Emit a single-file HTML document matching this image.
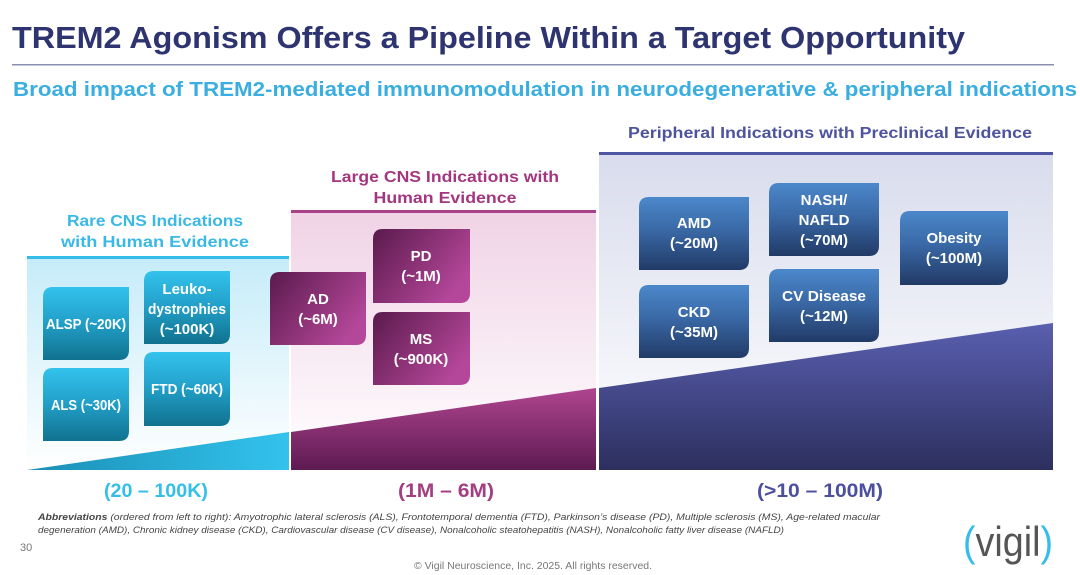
<!DOCTYPE html>
<html><head><meta charset="utf-8"><style>
html,body{margin:0;padding:0;background:#fff}
svg{display:block}
text{font-family:"Liberation Sans",sans-serif}
</style></head><body>
<svg width="1080" height="575" viewBox="0 0 1080 575" xmlns="http://www.w3.org/2000/svg" font-weight="bold">
<defs>
<linearGradient id="bgC" x1="0" y1="0" x2="0" y2="1"><stop offset="0" stop-color="#c6ecf9"/><stop offset="1" stop-color="#ffffff"/></linearGradient>
<linearGradient id="bgP" x1="0" y1="0" x2="0" y2="1"><stop offset="0" stop-color="#f0d3e6"/><stop offset="1" stop-color="#ffffff"/></linearGradient>
<linearGradient id="bgB" x1="0" y1="0" x2="0" y2="1"><stop offset="0" stop-color="#d9dced"/><stop offset="1" stop-color="#ffffff"/></linearGradient>
<linearGradient id="bxC" x1="0" y1="0" x2="0" y2="1"><stop offset="0" stop-color="#33c3ed"/><stop offset="0.45" stop-color="#23a2cc"/><stop offset="1" stop-color="#10728f"/></linearGradient>
<linearGradient id="bxP" x1="0" y1="0" x2="1" y2="0.6"><stop offset="0" stop-color="#5a1a4c"/><stop offset="1" stop-color="#b5479a"/></linearGradient>
<linearGradient id="bxB" x1="0" y1="0" x2="0" y2="1"><stop offset="0" stop-color="#4b88cb"/><stop offset="0.45" stop-color="#3a69a6"/><stop offset="1" stop-color="#213a66"/></linearGradient>
<linearGradient id="trC" x1="0" y1="0" x2="1" y2="0"><stop offset="0" stop-color="#1a8fb5"/><stop offset="1" stop-color="#33c3ed"/></linearGradient>
<linearGradient id="trP" x1="0" y1="1" x2="0" y2="0"><stop offset="0" stop-color="#5e1a52"/><stop offset="1" stop-color="#b0458f"/></linearGradient>
<linearGradient id="trB" x1="0" y1="1" x2="0" y2="0"><stop offset="0" stop-color="#2c2f5e"/><stop offset="1" stop-color="#5a5fb0"/></linearGradient>
</defs>
<text x="12" y="48" font-size="31" fill="#2d3470" textLength="953" lengthAdjust="spacingAndGlyphs">TREM2 Agonism Offers a Pipeline Within a Target Opportunity</text>
<rect x="12" y="64" width="1042" height="1.5" fill="#8a8fb0"/>
<text x="13" y="96" font-size="20" fill="#3aaee0" textLength="1064" lengthAdjust="spacingAndGlyphs">Broad impact of TREM2-mediated immunomodulation in neurodegenerative &amp; peripheral indications</text>

<rect x="27" y="259" width="262" height="211" fill="url(#bgC)"/>
<rect x="27" y="256" width="262" height="3" fill="#35bdea"/>
<rect x="291" y="213" width="305" height="257" fill="url(#bgP)"/>
<rect x="291" y="210" width="305" height="3" fill="#a8408a"/>
<rect x="599" y="155" width="454" height="315" fill="url(#bgB)"/>
<rect x="599" y="152" width="454" height="3" fill="#4f56a3"/>

<text x="155" y="226" font-size="16" fill="#3ab8e6" text-anchor="middle" textLength="176" lengthAdjust="spacingAndGlyphs">Rare CNS Indications</text>
<text x="155" y="247" font-size="16" fill="#3ab8e6" text-anchor="middle" textLength="188" lengthAdjust="spacingAndGlyphs">with Human Evidence</text>
<text x="445" y="182" font-size="16" fill="#a4367f" text-anchor="middle" textLength="228" lengthAdjust="spacingAndGlyphs">Large CNS Indications with</text>
<text x="445" y="203" font-size="16" fill="#a4367f" text-anchor="middle" textLength="143" lengthAdjust="spacingAndGlyphs">Human Evidence</text>
<text x="830" y="138" font-size="16" fill="#4d549d" text-anchor="middle" textLength="404" lengthAdjust="spacingAndGlyphs">Peripheral Indications with Preclinical Evidence</text>

<polygon points="27,470 289,432 289,470" fill="url(#trC)"/>
<polygon points="291,432 596,388 596,470 291,470" fill="url(#trP)"/>
<polygon points="599,388 1053,323 1053,470 599,470" fill="url(#trB)"/>

<g font-size="15" fill="#fff" text-anchor="middle">
<path d="M43,297 Q43,287 53,287 H129 V350 Q129,360 119,360 H43 Z" fill="url(#bxC)"/>
<text x="86" y="329" textLength="80" lengthAdjust="spacingAndGlyphs">ALSP (~20K)</text>
<path d="M144,281 Q144,271 154,271 H230 V334 Q230,344 220,344 H144 Z" fill="url(#bxC)"/>
<text x="187" y="294">Leuko-</text>
<text x="187" y="314" textLength="78" lengthAdjust="spacingAndGlyphs">dystrophies</text>
<text x="187" y="334">(~100K)</text>
<path d="M43,378 Q43,368 53,368 H129 V431 Q129,441 119,441 H43 Z" fill="url(#bxC)"/>
<text x="86" y="410" textLength="70" lengthAdjust="spacingAndGlyphs">ALS (~30K)</text>
<path d="M144,362 Q144,352 154,352 H230 V416 Q230,426 220,426 H144 Z" fill="url(#bxC)"/>
<text x="187" y="394" textLength="72" lengthAdjust="spacingAndGlyphs">FTD (~60K)</text>

<path d="M270,282 Q270,272 280,272 H366 V335 Q366,345 356,345 H270 Z" fill="url(#bxP)"/>
<text x="318" y="304">AD</text><text x="318" y="324">(~6M)</text>
<path d="M373,239 Q373,229 383,229 H470 V293 Q470,303 460,303 H373 Z" fill="url(#bxP)"/>
<text x="421" y="261">PD</text><text x="421" y="281">(~1M)</text>
<path d="M373,322 Q373,312 383,312 H470 V375 Q470,385 460,385 H373 Z" fill="url(#bxP)"/>
<text x="421" y="344">MS</text><text x="421" y="364">(~900K)</text>

<path d="M639,207 Q639,197 649,197 H749 V260 Q749,270 739,270 H639 Z" fill="url(#bxB)"/>
<text x="694" y="228">AMD</text><text x="694" y="248">(~20M)</text>
<path d="M769,193 Q769,183 779,183 H879 V246 Q879,256 869,256 H769 Z" fill="url(#bxB)"/>
<text x="824" y="205">NASH/</text><text x="824" y="225">NAFLD</text><text x="824" y="245">(~70M)</text>
<path d="M900,221 Q900,211 910,211 H1008 V275 Q1008,285 998,285 H900 Z" fill="url(#bxB)"/>
<text x="954" y="243">Obesity</text><text x="954" y="263">(~100M)</text>
<path d="M639,295 Q639,285 649,285 H749 V348 Q749,358 739,358 H639 Z" fill="url(#bxB)"/>
<text x="694" y="317">CKD</text><text x="694" y="337">(~35M)</text>
<path d="M769,279 Q769,269 779,269 H879 V332 Q879,342 869,342 H769 Z" fill="url(#bxB)"/>
<text x="824" y="301" textLength="84" lengthAdjust="spacingAndGlyphs">CV Disease</text><text x="824" y="321">(~12M)</text>
</g>

<text x="156" y="497" font-size="19" fill="#33bfe9" text-anchor="middle" textLength="104" lengthAdjust="spacingAndGlyphs">(20 – 100K)</text>
<text x="446" y="497" font-size="19" fill="#a33e80" text-anchor="middle" textLength="96" lengthAdjust="spacingAndGlyphs">(1M – 6M)</text>
<text x="820" y="497" font-size="19" fill="#4b4f9e" text-anchor="middle" textLength="126" lengthAdjust="spacingAndGlyphs">(&gt;10 – 100M)</text>

<text x="38" y="520" font-size="9" fill="#444" font-weight="normal" font-style="italic" textLength="842" lengthAdjust="spacingAndGlyphs"><tspan font-weight="bold">Abbreviations</tspan> (ordered from left to right): Amyotrophic lateral sclerosis (ALS), Frontotemporal dementia (FTD), Parkinson’s disease (PD), Multiple sclerosis (MS), Age-related macular</text>
<text x="38" y="533" font-size="9" fill="#444" font-weight="normal" font-style="italic" textLength="746" lengthAdjust="spacingAndGlyphs">degeneration (AMD), Chronic kidney disease (CKD), Cardiovascular disease (CV disease), Nonalcoholic steatohepatitis (NASH), Nonalcoholic fatty liver disease (NAFLD)</text>
<text x="20" y="551" font-size="11" fill="#777" font-weight="normal">30</text>
<text x="533" y="569" font-size="10" fill="#777" font-weight="normal" text-anchor="middle" textLength="238" lengthAdjust="spacingAndGlyphs">© Vigil Neuroscience, Inc. 2025. All rights reserved.</text>
<text x="1008" y="556" font-size="42" fill="#555" font-weight="normal" text-anchor="middle" textLength="90" lengthAdjust="spacingAndGlyphs"><tspan fill="#35bdea">(</tspan>vigil<tspan fill="#35bdea">)</tspan></text>
</svg>
</body></html>
